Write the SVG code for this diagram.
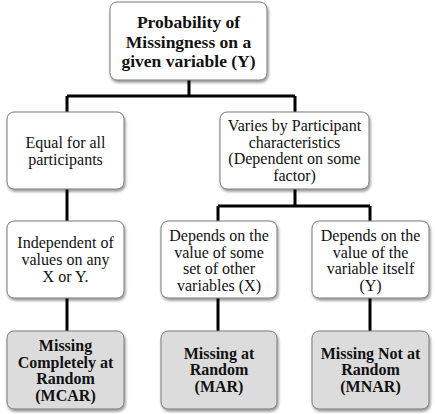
<svg xmlns="http://www.w3.org/2000/svg" width="435" height="414" viewBox="0 0 435 414">
<defs>
<filter id="sh" x="-10%" y="-10%" width="125%" height="130%">
<feGaussianBlur in="SourceAlpha" stdDeviation="1.5"/>
<feOffset dx="1" dy="2" result="b"/>
<feComponentTransfer><feFuncA type="linear" slope="0.45"/></feComponentTransfer>
<feMerge><feMergeNode/><feMergeNode in="SourceGraphic"/></feMerge>
</filter>
</defs>
<style>
.box{fill:#fff;stroke:#7a7a7a;stroke-width:1;filter:url(#sh)}
.gray{fill:#dcdcdc}
text{font-family:'Liberation Serif','Times New Roman',serif;font-size:16px;fill:#111;text-anchor:middle}
.b{font-weight:bold}
.top{font-size:17.5px}
.c{stroke:#000;stroke-width:3;fill:none}
</style>
<rect width="435" height="414" fill="#fff"/>
<g id="connectors">
<path class="c" d="M189 80V96M67 96H295M67 96V112M295 96V112"/>
<path class="c" d="M295 189V206M218 206H370M218 206V221M370 206V221"/>
<path class="c" d="M67 189V221"/>
<path class="c" d="M67 298V331M218 298V331M370 298V331"/>
</g>
<g id="n_top" font-family="Liberation Serif, serif">
<rect class="box" x="110" y="2" width="157" height="78" rx="7"/>
<text class="b top" x="188.5" y="28">Probability of</text>
<text class="b top" x="188.5" y="47.5">Missingness on a</text>
<text class="b top" x="188.5" y="67">given variable (Y)</text>
</g>
<g id="n_equal">
<rect class="box" x="7" y="112" width="117" height="77" rx="7"/>
<text x="65.5" y="148">Equal for all</text>
<text x="65.5" y="164.5">participants</text>
</g>
<g id="n_varies">
<rect class="box" x="220" y="112" width="149" height="77" rx="7"/>
<text x="294.5" y="131">Varies by Participant</text>
<text x="294.5" y="147.5">characteristics</text>
<text x="294.5" y="164">(Dependent on some</text>
<text x="294.5" y="180.5">factor)</text>
</g>
<g id="n_indep">
<rect class="box" x="7" y="221" width="117" height="77" rx="7"/>
<text x="65.5" y="248">Independent of</text>
<text x="65.5" y="265">values on any</text>
<text x="65.5" y="282">X or Y.</text>
</g>
<g id="n_other">
<rect class="box" x="161" y="221" width="116" height="77" rx="7"/>
<text x="219" y="241">Depends on the</text>
<text x="219" y="257.5">value of some</text>
<text x="219" y="274">set of other</text>
<text x="219" y="290.5">variables (X)</text>
</g>
<g id="n_itself">
<rect class="box" x="312" y="221" width="117" height="77" rx="7"/>
<text x="370.5" y="241">Depends on the</text>
<text x="370.5" y="257.5">value of the</text>
<text x="370.5" y="274">variable itself</text>
<text x="370.5" y="290.5">(Y)</text>
</g>
<g id="n_mcar">
<rect class="box gray" x="7" y="331" width="117" height="78" rx="7"/>
<text class="b" x="65.5" y="351">Missing</text>
<text class="b" x="65.5" y="367.5">Completely at</text>
<text class="b" x="65.5" y="384">Random</text>
<text class="b" x="65.5" y="400.5">(MCAR)</text>
</g>
<g id="n_mar">
<rect class="box gray" x="161" y="331" width="116" height="78" rx="7"/>
<text class="b" x="219" y="358.5">Missing at</text>
<text class="b" x="219" y="375">Random</text>
<text class="b" x="219" y="391.5">(MAR)</text>
</g>
<g id="n_mnar">
<rect class="box gray" x="312" y="331" width="117" height="78" rx="7"/>
<text class="b" x="370.5" y="358.5">Missing Not at</text>
<text class="b" x="370.5" y="375">Random</text>
<text class="b" x="370.5" y="391.5">(MNAR)</text>
</g>
</svg>
